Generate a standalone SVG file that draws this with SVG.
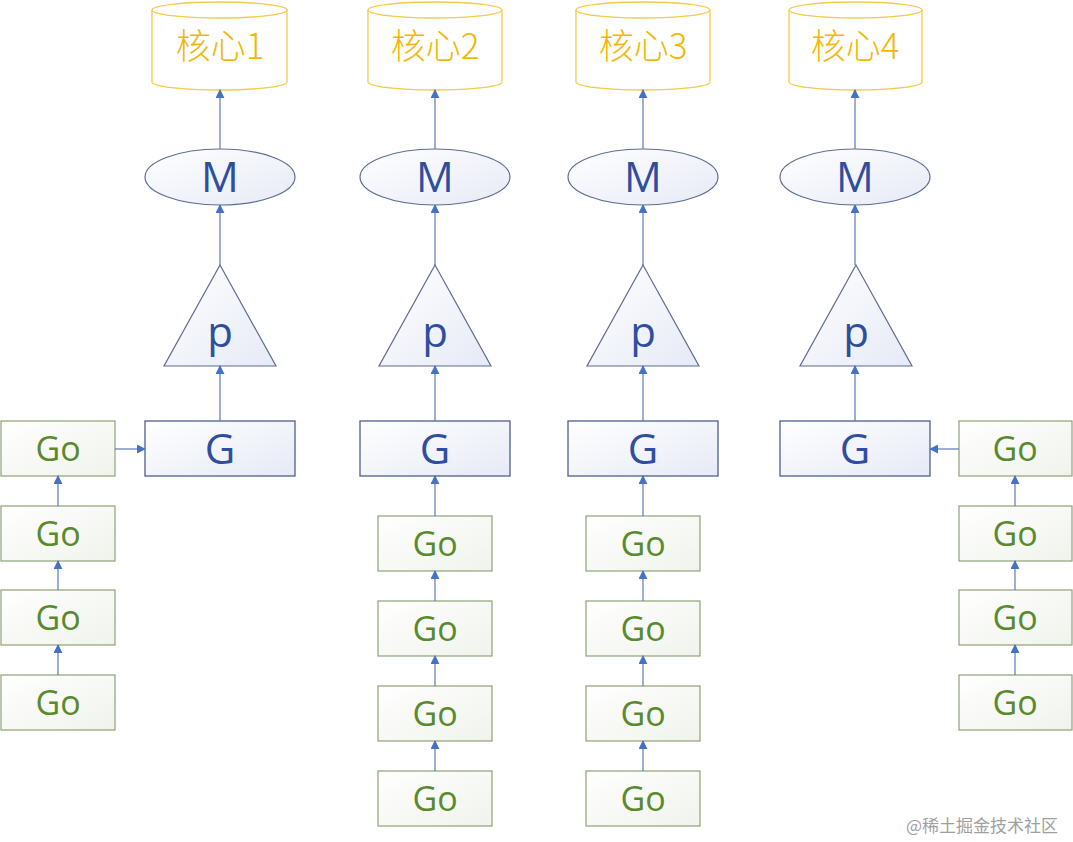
<svg xmlns="http://www.w3.org/2000/svg" width="1073" height="842" viewBox="0 0 1073 842">
<defs>
<linearGradient id="gb" x1="0" y1="0" x2="1" y2="1"><stop offset="0" stop-color="#ffffff"/><stop offset="1" stop-color="#e6eaf6"/></linearGradient>
<linearGradient id="gg" x1="0" y1="0" x2="1" y2="1"><stop offset="0" stop-color="#ffffff"/><stop offset="1" stop-color="#f0f3ec"/></linearGradient>
<marker id="ah" viewBox="0 0 10 10" refX="9" refY="5" markerWidth="9" markerHeight="9" markerUnits="userSpaceOnUse" orient="auto"><path d="M0,0 L10,5 L0,10 z" fill="#4472c4"/></marker>
<style>
.cyl{fill:#ffffff;stroke:#f5c94a;stroke-width:1.3}
.ct{font-family:"Noto Sans CJK SC","Noto Sans",sans-serif;font-size:35px;font-weight:300;fill:#f2b705;text-anchor:middle}
.m{fill:url(#gb);stroke:#5f6d92;stroke-width:1.2}
.bt{font-family:"Open Sans","Noto Sans",sans-serif;font-size:42px;fill:#2f4f9e;text-anchor:middle}
.g{fill:url(#gb);stroke:#4f5f8f;stroke-width:1.3}
.go{fill:url(#gg);stroke:#8ea27a;stroke-width:1.2}
.gt{font-family:"Open Sans","Noto Sans",sans-serif;font-size:34px;fill:#5a8a2e;text-anchor:middle}
.c{stroke:#5b79b8;stroke-width:1.2;fill:none;marker-end:url(#ah)}
.wm{font-family:"Noto Sans CJK SC",sans-serif;font-size:17px;fill:#a0a0a0}
</style>
</defs>
<rect width="1073" height="842" fill="#ffffff"/>

<g id="core1"><path class="cyl" d="M152,10 A67.5,8 0 0 1 287,10 L287,82 A67.5,8 0 0 1 152,82 Z"/><path class="cyl" d="M152,10 A67.5,8 0 0 0 287,10"/><text class="ct" x="220" y="59">核心1</text></g>
<g id="core2"><path class="cyl" d="M368,10 A67,8 0 0 1 502,10 L502,82 A67,8 0 0 1 368,82 Z"/><path class="cyl" d="M368,10 A67,8 0 0 0 502,10"/><text class="ct" x="435" y="59">核心2</text></g>
<g id="core3"><path class="cyl" d="M576,10 A67,8 0 0 1 710,10 L710,82 A67,8 0 0 1 576,82 Z"/><path class="cyl" d="M576,10 A67,8 0 0 0 710,10"/><text class="ct" x="643" y="59">核心3</text></g>
<g id="core4"><path class="cyl" d="M789,10 A66.5,8 0 0 1 922,10 L922,82 A66.5,8 0 0 1 789,82 Z"/><path class="cyl" d="M789,10 A66.5,8 0 0 0 922,10"/><text class="ct" x="855" y="59">核心4</text></g>

<g id="m1"><ellipse class="m" cx="220" cy="177" rx="75" ry="28"/><text class="bt" x="220" y="192">M</text></g>
<g id="m2"><ellipse class="m" cx="435" cy="177" rx="75" ry="28"/><text class="bt" x="435" y="192">M</text></g>
<g id="m3"><ellipse class="m" cx="643" cy="177" rx="75" ry="28"/><text class="bt" x="643" y="192">M</text></g>
<g id="m4"><ellipse class="m" cx="855" cy="177" rx="75" ry="28"/><text class="bt" x="855" y="192">M</text></g>

<g id="p1"><polygon class="m" points="220,265 276,366 164,366"/><text class="bt" x="220" y="347">p</text></g>
<g id="p2"><polygon class="m" points="435,265 491,366 379,366"/><text class="bt" x="435" y="347">p</text></g>
<g id="p3"><polygon class="m" points="643,265 699,366 587,366"/><text class="bt" x="643" y="347">p</text></g>
<g id="p4"><polygon class="m" points="856,265 912,366 800,366"/><text class="bt" x="856" y="347">p</text></g>

<g id="g1"><rect class="g" x="145" y="421" width="150" height="55"/><text class="bt" x="220" y="464">G</text></g>
<g id="g2"><rect class="g" x="360" y="421" width="150" height="55"/><text class="bt" x="435" y="464">G</text></g>
<g id="g3"><rect class="g" x="568" y="421" width="150" height="55"/><text class="bt" x="643" y="464">G</text></g>
<g id="g4"><rect class="g" x="780" y="421" width="150" height="55"/><text class="bt" x="855" y="464">G</text></g>

<g id="go1a"><rect class="go" x="1" y="421" width="114" height="55"/><text class="gt" x="58" y="461">Go</text></g>
<g id="go1b"><rect class="go" x="1" y="506" width="114" height="55"/><text class="gt" x="58" y="546">Go</text></g>
<g id="go1c"><rect class="go" x="1" y="590" width="114" height="55"/><text class="gt" x="58" y="630">Go</text></g>
<g id="go1d"><rect class="go" x="1" y="675" width="114" height="55"/><text class="gt" x="58" y="715">Go</text></g>

<g id="go2a"><rect class="go" x="378" y="516" width="114" height="55"/><text class="gt" x="435" y="556">Go</text></g>
<g id="go2b"><rect class="go" x="378" y="601" width="114" height="55"/><text class="gt" x="435" y="641">Go</text></g>
<g id="go2c"><rect class="go" x="378" y="686" width="114" height="55"/><text class="gt" x="435" y="726">Go</text></g>
<g id="go2d"><rect class="go" x="378" y="771" width="114" height="55"/><text class="gt" x="435" y="811">Go</text></g>

<g id="go3a"><rect class="go" x="586" y="516" width="114" height="55"/><text class="gt" x="643" y="556">Go</text></g>
<g id="go3b"><rect class="go" x="586" y="601" width="114" height="55"/><text class="gt" x="643" y="641">Go</text></g>
<g id="go3c"><rect class="go" x="586" y="686" width="114" height="55"/><text class="gt" x="643" y="726">Go</text></g>
<g id="go3d"><rect class="go" x="586" y="771" width="114" height="55"/><text class="gt" x="643" y="811">Go</text></g>

<g id="go4a"><rect class="go" x="959" y="421" width="113" height="55"/><text class="gt" x="1015" y="461">Go</text></g>
<g id="go4b"><rect class="go" x="959" y="506" width="113" height="55"/><text class="gt" x="1015" y="546">Go</text></g>
<g id="go4c"><rect class="go" x="959" y="590" width="113" height="55"/><text class="gt" x="1015" y="630">Go</text></g>
<g id="go4d"><rect class="go" x="959" y="675" width="113" height="55"/><text class="gt" x="1015" y="715">Go</text></g>

<g id="connectors">
<line class="c" x1="220" y1="149" x2="220" y2="90"/>
<line class="c" x1="435" y1="149" x2="435" y2="90"/>
<line class="c" x1="643" y1="149" x2="643" y2="90"/>
<line class="c" x1="855" y1="149" x2="855" y2="90"/>
<line class="c" x1="220" y1="265" x2="220" y2="205"/>
<line class="c" x1="435" y1="265" x2="435" y2="205"/>
<line class="c" x1="643" y1="265" x2="643" y2="205"/>
<line class="c" x1="855" y1="265" x2="855" y2="205"/>
<line class="c" x1="220" y1="421" x2="220" y2="366"/>
<line class="c" x1="435" y1="421" x2="435" y2="366"/>
<line class="c" x1="643" y1="421" x2="643" y2="366"/>
<line class="c" x1="855" y1="421" x2="855" y2="366"/>
<line class="c" x1="115" y1="449" x2="145" y2="449"/>
<line class="c" x1="959" y1="449" x2="930" y2="449"/>
<line class="c" x1="58" y1="506" x2="58" y2="476"/>
<line class="c" x1="58" y1="590" x2="58" y2="561"/>
<line class="c" x1="58" y1="675" x2="58" y2="645"/>
<line class="c" x1="1015" y1="506" x2="1015" y2="476"/>
<line class="c" x1="1015" y1="590" x2="1015" y2="561"/>
<line class="c" x1="1015" y1="675" x2="1015" y2="645"/>
<line class="c" x1="435" y1="516" x2="435" y2="476"/>
<line class="c" x1="435" y1="601" x2="435" y2="571"/>
<line class="c" x1="435" y1="686" x2="435" y2="656"/>
<line class="c" x1="435" y1="771" x2="435" y2="741"/>
<line class="c" x1="643" y1="516" x2="643" y2="476"/>
<line class="c" x1="643" y1="601" x2="643" y2="571"/>
<line class="c" x1="643" y1="686" x2="643" y2="656"/>
<line class="c" x1="643" y1="771" x2="643" y2="741"/>
</g>
<text class="wm" x="906" y="832">@稀土掘金技术社区</text>
</svg>
